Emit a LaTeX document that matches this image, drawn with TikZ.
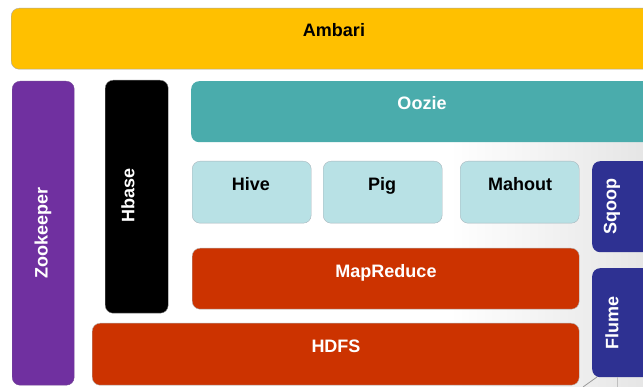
\documentclass[tikz,border=0pt]{standalone}
\usepackage{fontspec}
\setmainfont{Liberation Sans}
\definecolor{ambari}{HTML}{FFC000}
\definecolor{zoo}{HTML}{7030A0}
\definecolor{oozie}{HTML}{4AACAC}
\definecolor{lightc}{HTML}{B8E1E5}
\definecolor{redc}{HTML}{CC3300}
\definecolor{bluec}{HTML}{2E3192}
\begin{document}
\begin{tikzpicture}[x=1pt,y=-1pt,
  box/.style={rectangle,rounded corners=8pt,inner sep=0pt,anchor=north west},
  lbl/.style={font=\fontsize{18}{20}\selectfont\bfseries,inner sep=0pt,anchor=base},
  vlbl/.style={font=\fontsize{18}{20}\selectfont\bfseries,inner sep=0pt,rotate=90}]
\useasboundingbox (0,0) rectangle (643,387);
\fill[white] (0,0) rectangle (643,387);
\shade[left color=white,right color=gray!20] (450,140) rectangle (643,387);
\begin{scope}
\clip (0,0) rectangle (643,387);
\node[box,fill=ambari,draw=gray!70,minimum width=660pt,minimum height=61pt] (ambaribox) at (11,8) {};
\node[box,fill=zoo,draw=zoo!70!gray,minimum width=62pt,minimum height=304pt] (zoobox) at (12,81) {};
\node[box,fill=black,draw=gray,minimum width=63pt,minimum height=233pt] (hbasebox) at (105,80) {};
\node[box,fill=oozie,minimum width=470pt,minimum height=61pt] (ooziebox) at (191,81) {};
\node[box,fill=lightc,draw=gray!60!cyan!60!black!50,minimum width=119pt,minimum height=62pt] (hivebox) at (192,161) {};
\node[box,fill=lightc,draw=gray!60!cyan!60!black!50,minimum width=119pt,minimum height=62pt] (pigbox) at (323,161) {};
\node[box,fill=lightc,draw=gray!60!cyan!60!black!50,minimum width=119pt,minimum height=62pt] (mahoutbox) at (460,161) {};
\node[box,fill=bluec,minimum width=70pt,minimum height=91pt] (sqoopbox) at (592,161) {};
\node[box,fill=redc,draw=gray!60,minimum width=387pt,minimum height=61pt] (mrbox) at (192,248) {};
\node[box,fill=redc,draw=gray!60,minimum width=487pt,minimum height=62pt] (hdfsbox) at (92,323) {};
\node[box,fill=bluec,minimum width=70pt,minimum height=109pt] (flumebox) at (592,268) {};
\coordinate (g1) at (583,387);
\coordinate (g2) at (597,377);
\coordinate (g3) at (617,377);
\coordinate (g4) at (617,387);
\draw[gray!80,line width=0.8pt] (g1) -- (g2);
\draw[gray!50,line width=0.8pt] (g3) -- (g4);
\end{scope}
\node[lbl] (ambari) at (334,37) {Ambari};
\node[lbl,white] (oozie) at (422,110) {Oozie};
\node[lbl] (hive) at (251,191) {Hive};
\node[lbl] (pig) at (382,191) {Pig};
\node[lbl] (mahout) at (520,191) {Mahout};
\node[lbl,white] (mr) at (386,278) {MapReduce};
\node[lbl,white] (hdfs) at (336,353) {HDFS};
\node[vlbl,white] (zoo) at (43,233) {Zookeeper};
\node[vlbl,white] (hbase) at (128,195) {Hbase};
\node[vlbl,white] (sqoop) at (612,207) {Sqoop};
\node[vlbl,white] (flume) at (612,323) {Flume};
\end{tikzpicture}
\end{document}
